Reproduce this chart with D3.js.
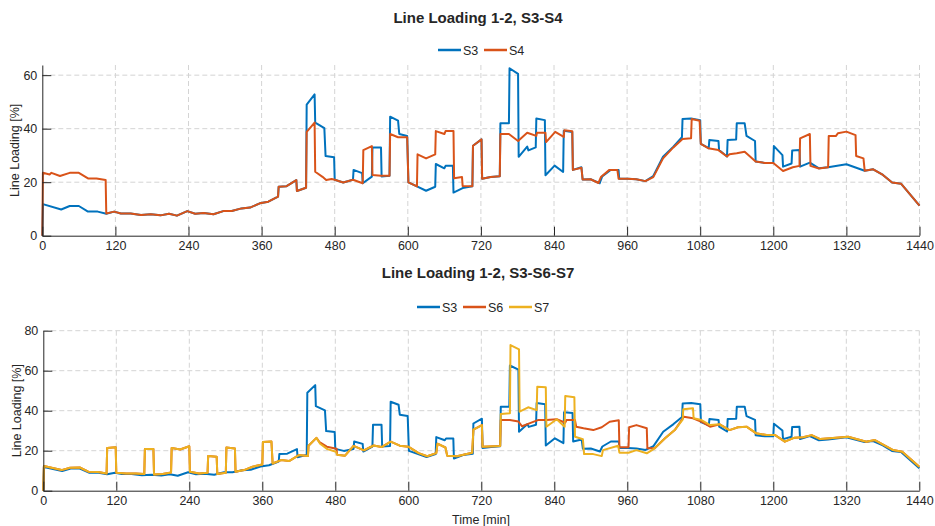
<!DOCTYPE html>
<html>
<head>
<meta charset="utf-8">
<script src="https://cdn.jsdelivr.net/npm/d3@7/dist/d3.min.js"></script>
<style>
  body { margin: 0; background: #ffffff; }
  text { font-family: "Liberation Sans", Arial, sans-serif; fill: #262626; }
</style>
</head>
<body>
<svg id="chart" width="935" height="526"></svg>
<script>
// time axis ticks [min]
const xTicks = [0, 120, 240, 360, 480, 600, 720, 840, 960, 1080, 1200, 1320, 1440];
const yTicksTop = [0, 20, 40, 60];
const yTicksBottom = [0, 20, 40, 60, 80];

const seriesNames = ["S3", "S4", "S6", "S7"];
const seriesColors = { S3: "#0072BD", S4: "#D95319", S6: "#D95319", S7: "#EDB120" };

// [minute, loading %]
const s3Points = [[0,0],[1,11.8],[31,9.8],[45,11.1],[60,11.1],[75,9.0],[91,9.0],[105,8.2],[118,9.0],[129,8.3],[145,8.3],[162,7.7],[178,8.0],[194,7.6],[208,8.2],[221,7.5],[238,9.2],[251,8.2],[265,8.5],[281,8.0],[297,9.2],[311,9.2],[327,10.2],[341,10.5],[357,12.1],[371,12.7],[387,14.6],[388,18.3],[401,18.5],[417,20.8],[418,16.7],[433,17.9],[434,49.0],[447,52.8],[448,42.3],[463,40.2],[465,29.8],[479,29.3],[480,20.9],[494,19.9],[510,20.9],[511,24.6],[525,23.4],[526,19.6],[541,22.1],[542,33],[556,33],[557,22.1],[570,22.4],[571,44.5],[584,43],[586,38],[599,37.3],[601,19.9],[615,18.4],[630,16.8],[645,18.3],[646,26.8],[660,25.2],[662,26.1],[674,26.1],[675,16.1],[690,17.8],[706,18.5],[707,33.6],[721,36],[722,21.3],[736,21.9],[751,22.2],[752,42],[766,42],[767,62.6],[781,60.5],[782,29.5],[796,33.3],[798,31.9],[810,33],[811,43.8],[825,43.2],[826,22.6],[841,26.2],[855,23.8],[856,39.2],[870,38.8],[871,24.6],[885,25.6],[887,21],[900,21.1],[915,19.6],[919,22.1],[933,24.6],[946,24.6],[947,21.3],[961,21.3],[975,21.1],[990,20.4],[1003,22.3],[1019,29.5],[1036,33.3],[1050,36.8],[1051,43.6],[1065,43.8],[1080,43.2],[1081,34.3],[1094,32.7],[1095,35.8],[1110,35.4],[1111,32],[1124,29.6],[1125,35.8],[1139,36],[1140,42],[1153,42],[1156,37.3],[1170,35.4],[1171,27.7],[1186,27.2],[1200,27.2],[1201,33.5],[1215,30.1],[1216,25.8],[1230,27],[1231,31.8],[1243,32],[1244,25.8],[1260,27.3],[1275,25.2],[1290,25.6],[1320,26.7],[1350,24.3],[1364,24.8],[1380,22.7],[1395,19.9],[1410,19.4],[1440,11.2]];

const s4Points = [[0,0],[1,23.5],[12,22.9],[15,23.5],[29,22.3],[45,23.5],[60,23.5],[75,21.4],[89,21.4],[104,20.8],[105,8.3],[118,9.0],[129,8.3],[145,8.3],[162,7.7],[178,8.0],[194,7.6],[208,8.2],[221,7.5],[238,9.2],[251,8.2],[265,8.5],[281,8.0],[297,9.2],[311,9.2],[327,10.2],[341,10.5],[357,12.1],[371,12.7],[387,14.6],[388,18.3],[401,18.5],[417,20.8],[418,16.7],[433,17.9],[434,38.8],[447,42.3],[448,23.9],[460,22],[466,20.8],[475,21.2],[480,20.9],[494,19.9],[510,20.9],[526,19.6],[527,32],[541,33.5],[542,22.7],[556,22.4],[570,22.4],[571,38],[584,36.8],[599,36.8],[601,19.9],[615,18.4],[616,30.4],[630,28.9],[645,30.4],[646,39.1],[660,38],[662,39.1],[675,39.1],[676,21.5],[689,21.9],[690,18.6],[706,18.5],[707,33.6],[721,36],[722,21.3],[736,21.9],[751,22.2],[752,38],[766,38],[781,35.4],[796,38.5],[811,37.3],[812,38.5],[826,38.5],[827,35],[842,38.8],[856,36.9],[857,39.4],[870,39],[871,24.6],[885,25.4],[887,21],[900,21.1],[913,19.7],[917,21.9],[931,24.6],[944,24.6],[946,21.3],[961,21.3],[975,21.1],[990,20.4],[1003,21.9],[1019,28.9],[1036,33],[1051,36.1],[1065,36.4],[1066,43.6],[1079,43],[1081,34.3],[1093,32.7],[1110,32],[1124,29.6],[1128,30.4],[1140,30.8],[1153,31.4],[1171,27.7],[1186,27.2],[1200,27.2],[1216,24.2],[1232,25.6],[1243,26.1],[1244,36.4],[1260,38],[1261,26.1],[1275,25.1],[1290,25.6],[1291,37.3],[1303,37.3],[1306,38.3],[1320,38.9],[1335,37.6],[1336,29.8],[1348,28.9],[1350,24.3],[1364,24.8],[1380,22.7],[1395,19.9],[1410,19.4],[1440,11.2]];

const s6Points = [[0,0],[1,12.3],[30,10.3],[44,11.5],[60,11.6],[74,9.5],[90,9.3],[104,8.6],[105,21.4],[119,21.7],[120,9.0],[136,8.6],[152,8.6],[166,8.3],[167,20.9],[181,20.9],[182,8.1],[196,8.3],[210,9.1],[211,21.4],[225,20.6],[240,22.2],[241,9.5],[256,8.6],[270,9.0],[271,17.3],[285,17],[286,8.3],[300,9.0],[301,21.6],[315,21.1],[316,9.5],[330,10.3],[344,12],[360,13.1],[361,24.3],[375,24.6],[377,13.6],[391,15.3],[404,14.8],[420,17.8],[435,17.3],[436,22.5],[449,26.4],[454,24.3],[466,22],[482,21],[483,18],[496,17.5],[510,22.4],[527,20.2],[543,22.6],[556,21.8],[571,24.5],[586,22.5],[600,22],[617,18.8],[631,17.2],[646,18.8],[648,23.5],[661,21.6],[664,17.5],[680,17.2],[705,19],[707,30.5],[721,32.8],[722,22],[751,22.3],[752,35.3],[767,35.3],[781,34.6],[787,32.2],[800,33.8],[813,35.3],[827,35.3],[844,35.7],[858,34],[860,35.3],[874,35.3],[876,32],[888,31.2],[904,30.3],[918,31.7],[931,34.5],[946,35.2],[947,21.7],[962,21.7],[963,31.7],[975,32.8],[992,31.2],[993,21.2],[1005,21.2],[1022,26.2],[1038,30.3],[1053,37],[1068,36.2],[1082,34.5],[1096,32],[1112,33.2],[1128,30.3],[1142,31.7],[1156,32],[1172,28.7],[1189,27.8],[1203,27.8],[1219,24.5],[1235,26.5],[1249,26.7],[1263,27.8],[1277,25.8],[1293,26.2],[1323,27],[1353,24.5],[1367,25.3],[1397,20.3],[1412,19.5],[1440,12]];

const s7Points = [[0,0],[1,12.3],[30,10.3],[44,11.5],[60,11.6],[74,9.5],[90,9.3],[104,8.6],[105,21.4],[119,21.7],[120,9.0],[136,8.6],[152,8.6],[166,8.3],[167,20.9],[181,20.9],[182,8.1],[196,8.3],[210,9.1],[211,21.4],[225,20.6],[240,22.2],[241,9.5],[256,8.6],[270,9.0],[271,17.3],[285,17],[286,8.3],[300,9.0],[301,21.6],[315,21.1],[316,9.5],[330,10.3],[344,12],[360,13.1],[361,24.3],[375,24.6],[377,13.6],[391,15.3],[404,14.8],[420,17.8],[435,17.3],[436,22.5],[449,26.4],[455,23.5],[467,20.8],[481,19.5],[483,18],[496,17.5],[510,22.4],[527,20.2],[543,22.6],[556,21.8],[571,24.5],[586,22.5],[600,22],[617,18.8],[631,17.2],[646,18.8],[648,23.5],[661,21.6],[664,17.5],[680,17.2],[705,19],[707,30.5],[721,32.8],[722,22],[751,22.3],[752,38.4],[767,38.7],[768,72.8],[782,70.7],[783,39.5],[797,41.7],[811,40.3],[812,52],[826,51.7],[827,32],[844,35.7],[857,32],[858,47.3],[873,46.7],[874,27],[887,25.7],[889,18.3],[904,18.3],[918,17.3],[920,20.3],[945,22.5],[947,19],[962,19],[975,20.3],[992,18.7],[1005,21.2],[1022,26.2],[1038,30.3],[1051,35.5],[1052,40.7],[1068,41.2],[1069,36.2],[1082,35.3],[1096,32.8],[1112,33.2],[1128,30.3],[1142,31.7],[1156,32],[1172,28.7],[1189,27.8],[1203,27.8],[1219,24.5],[1235,26.5],[1249,26.7],[1263,27.8],[1277,25.8],[1293,26.2],[1323,27],[1353,24.5],[1367,25.3],[1397,20.3],[1412,19.5],[1440,12]];

const pointsByName = { S3: s3Points, S4: s4Points, S6: s6Points, S7: s7Points };

var svg = d3.select("#chart");
svg.append("rect").attr("width", 935).attr("height", 526).attr("fill", "#ffffff");

function drawPanel(p) {
  var x = d3.scaleLinear().domain([0, 1440]).range([p.left, p.right]);
  var y = d3.scaleLinear().domain([0, p.yMax]).range([p.bottom, p.top]);
  var g = svg.append("g");

  // grid
  g.selectAll(".vgrid").data(xTicks.slice(1)).enter().append("line")
    .attr("x1", d => x(d)).attr("x2", d => x(d))
    .attr("y1", p.top).attr("y2", p.bottom)
    .attr("stroke", "#d4d4d4").attr("stroke-width", 1)
    .attr("stroke-dasharray", "5,3");
  g.selectAll(".hgrid").data(p.yTicks.slice(1)).enter().append("line")
    .attr("x1", p.left).attr("x2", p.right)
    .attr("y1", d => y(d)).attr("y2", d => y(d))
    .attr("stroke", "#d4d4d4").attr("stroke-width", 1)
    .attr("stroke-dasharray", "5,3");

  // series
  var line = d3.line().x(d => x(d[0])).y(d => y(d[1]));
  p.series.forEach(function(name) {
    g.append("path")
      .datum(pointsByName[name])
      .attr("d", line)
      .attr("fill", "none")
      .attr("stroke", seriesColors[name])
      .attr("stroke-width", 2)
      .attr("stroke-linejoin", "round");
  });

  // axes, ticks pointing inwards like matlab
  var xAxis = g.append("g")
    .attr("transform", `translate(0,${p.bottom})`)
    .call(d3.axisBottom(x).tickValues(xTicks).tickFormat(d3.format("d"))
      .tickSizeInner(-9).tickSizeOuter(0).tickPadding(5));
  var yAxis = g.append("g")
    .attr("transform", `translate(${p.left},0)`)
    .call(d3.axisLeft(y).tickValues(p.yTicks).tickFormat(d3.format("d"))
      .tickSizeInner(-9).tickSizeOuter(0).tickPadding(5));
  [xAxis, yAxis].forEach(function(a) {
    a.selectAll("path, line").attr("stroke", "#262626").attr("stroke-width", 1);
    a.selectAll("text").style("font-size", "12.5px").attr("fill", "#262626")
      .style("font-family", "'Liberation Sans', Arial, sans-serif");
  });

  // title
  svg.append("text")
    .attr("x", 478).attr("y", p.titleY)
    .attr("text-anchor", "middle")
    .style("font-size", "15px").style("font-weight", "bold")
    .attr("fill", "#000000")
    .text(p.title);

  // legend
  var itemW = 46;
  p.series.forEach(function(name, i) {
    var lx = p.legendX + i * itemW;
    svg.append("line")
      .attr("x1", lx).attr("x2", lx + 23)
      .attr("y1", p.legendY).attr("y2", p.legendY)
      .attr("stroke", seriesColors[name]).attr("stroke-width", 2.5);
    svg.append("text")
      .attr("x", lx + 25).attr("y", p.legendY + 4.5)
      .style("font-size", "12.5px")
      .text(name);
  });

  // y label
  svg.append("text")
    .attr("transform", `translate(${p.yLabelX},${(p.top + p.bottom) / 2}) rotate(-90)`)
    .attr("text-anchor", "middle")
    .style("font-size", "12.5px")
    .text("Line Loading [%]");
}

drawPanel({
  left: 42.3, right: 919.5, top: 65, bottom: 235.7, yMax: 63.8,
  yTicks: yTicksTop, series: ["S3", "S4"],
  title: "Line Loading 1-2, S3-S4", titleY: 23, legendX: 438, legendY: 50, yLabelX: 19
});

drawPanel({
  left: 43.3, right: 919.3, top: 330.7, bottom: 490.7, yMax: 80,
  yTicks: yTicksBottom, series: ["S3", "S6", "S7"],
  title: "Line Loading 1-2, S3-S6-S7", titleY: 278, legendX: 417, legendY: 307, yLabelX: 21
});

svg.append("text")
  .attr("x", 481).attr("y", 524)
  .attr("text-anchor", "middle")
  .style("font-size", "12.5px")
  .text("Time [min]");
</script>
</body>
</html>
